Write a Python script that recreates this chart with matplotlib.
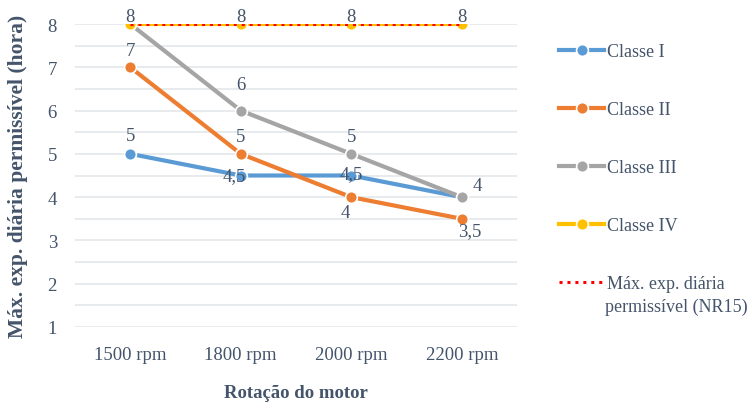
import matplotlib.pyplot as plt
from matplotlib.ticker import MultipleLocator

# dados: tempo máximo de exposição por classe e rotação
rotacoes = ['1500 rpm', '1800 rpm', '2000 rpm', '2200 rpm']
classe_1 = [5, 4.5, 4.5, 4]
classe_2 = [7, 5, 4, 3.5]
classe_3 = [8, 6, 5, 4]
classe_4 = [8, 8, 8, 8]
nr15 = [8, 8, 8, 8]

txt = '#44546A'
plt.rcParams['font.family'] = ['Liberation Serif', 'DejaVu Serif']

fig = plt.figure(figsize=(7.52, 4.10), dpi=100)
ax = fig.add_axes([75 / 752, 82 / 410, 442 / 752, 303 / 410])

x = range(len(rotacoes))
estilo = dict(lw=3, marker='o', ms=8.5, mec='white', mew=1.2)
ax.plot(x, classe_1, color='#5B9BD5', label='Classe I', **estilo)
ax.plot(x, classe_2, color='#ED7D31', label='Classe II', **estilo)
ax.plot(x, classe_3, color='#A5A5A5', label='Classe III', **estilo)
ax.plot(x, classe_4, color='#FFC000', label='Classe IV', **estilo)
ax.plot(x, nr15, color='#FF0000', ls=(0, (1, 1.6)), lw=2.2, marker='o', ms=8.5,
        mfc='none', mec='none', label='Máx. exp. diária')


def rotulos(valores, offsets):
    # offset None = ponto sem rótulo (sobreposto por outra série)
    for i, (v, off) in enumerate(zip(valores, offsets)):
        if off is None:
            continue
        ax.annotate(f'{v:g}'.replace('.', ','), (i, v), xytext=off,
                    textcoords='offset pixels', ha='center', va='center',
                    fontsize=13.5, color=txt)


rotulos(classe_1, [(0, 18), (-6, 0), (0, 2), None])
rotulos(classe_2, [(0, 17), (0, 17), (-6, -15), (8, -12)])
rotulos(classe_3, [None, (0, 26), (0, 17), (16, 12)])
rotulos(classe_4, [(0, 8), (0, 8), (0, 8), (0, 8)])

ax.set_xlim(-0.5, 3.5)
ax.set_ylim(1, 8)
ax.set_xticks(list(x))
ax.set_xticklabels(rotacoes)
ax.yaxis.set_major_locator(MultipleLocator(1))
ax.yaxis.set_minor_locator(MultipleLocator(0.5))
ax.grid(True, which='both', axis='y', color='#E1E5EA', lw=1.1)
ax.set_axisbelow(True)
for s in ax.spines.values():
    s.set_visible(False)
ax.tick_params(length=0, which='both', labelsize=13.5, colors=txt)
ax.tick_params(axis='y', pad=13)
ax.tick_params(axis='x', pad=14)

ax.set_ylabel('Máx. exp. diária permissível (hora)', fontsize=15.5,
              fontweight='bold', color=txt, labelpad=14)
ax.set_xlabel('Rotação do motor', fontsize=13.5, fontweight='bold',
              color=txt, labelpad=15)

fig.legend(loc='upper left', bbox_to_anchor=(552 / 752, 1 - 37 / 410),
           frameon=False, fontsize=13, labelcolor=txt, handlelength=2.5,
           handletextpad=0.15, labelspacing=2.27, borderaxespad=0)
# segunda linha do rótulo da NR15
fig.text(605 / 752, 1 - 307 / 410, 'permissível (NR15)', fontsize=13,
         color=txt, ha='left', va='center')

fig.savefig('out.png', dpi=100)
